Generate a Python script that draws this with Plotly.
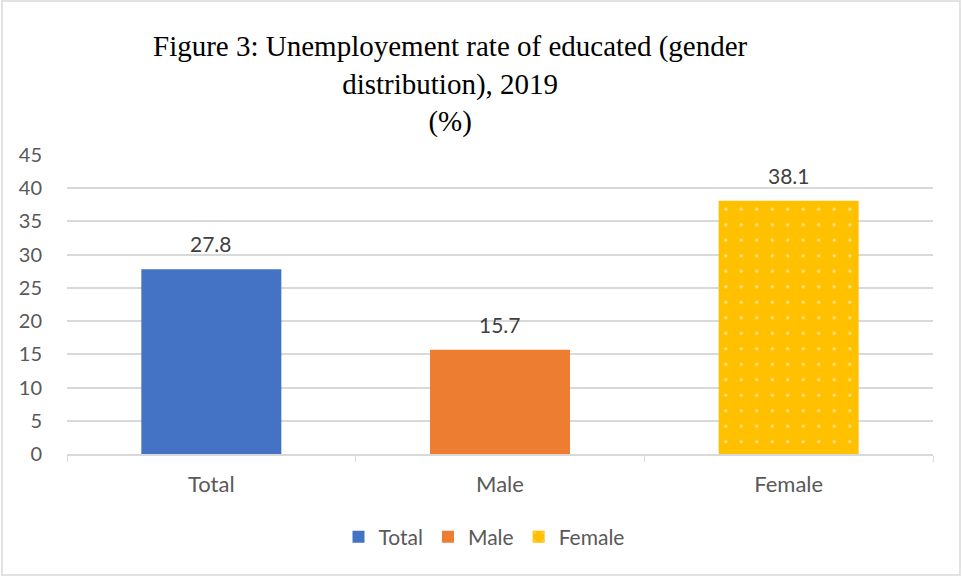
import plotly.graph_objects as go

categories = ["Total", "Male", "Female"]
values = [27.8, 15.7, 38.1]
colors = ["#4472C4", "#ED7D31", "#FFC000"]
y_ticks = [0, 5, 10, 15, 20, 25, 30, 35, 40, 45]
title_lines = ["Figure 3: Unemployement rate of educated (gender", "distribution), 2019", "(%)"]

W, H = 962, 576
ML, MR, MT, MB = 67, 29, 155, 122
pw, ph = W - ML - MR, H - MT - MB
SANS = "Lato, Liberation Sans, sans-serif"

fig = go.Figure()
for c, v, col in zip(categories, values, colors):
    marker = dict(color=col, line=dict(width=0))
    if c == "Female":
        marker["pattern"] = dict(shape=".", fgcolor="white", bgcolor=col, size=15.5,
                                 solidity=0.04, fillmode="overlay")
    fig.add_trace(go.Bar(x=[c], y=[v], name=c, marker=marker, width=0.485, hoverinfo="skip"))
    fig.add_annotation(x=c, y=v, text=f"{v}", showarrow=False, yanchor="bottom", yshift=11,
                       font=dict(family=SANS, size=21, color="#404040"))

fig.add_annotation(
    text="<br>".join(title_lines), xref="paper", yref="paper",
    x=(450 - ML) / pw, y=1 + (155 - 28) / ph,
    xanchor="center", yanchor="top", showarrow=False, align="center",
    font=dict(family="Liberation Serif, Times New Roman, serif", size=29, color="black"),
)

# outer border
fig.add_shape(type="rect", xref="paper", yref="paper",
              x0=(2 - ML) / pw, x1=(960 - ML) / pw,
              y0=-(MB - 1) / ph, y1=1 + (MT - 1) / ph,
              line=dict(color="#D9D9D9", width=1.5), fillcolor="rgba(0,0,0,0)", layer="below")

fig.update_layout(
    width=W, height=H,
    margin=dict(l=ML, r=MR, t=MT, b=MB, pad=0),
    paper_bgcolor="white", plot_bgcolor="white",
    barmode="overlay",
    showlegend=True,
    legend=dict(orientation="h", x=(484 - ML) / pw, xanchor="center", y=-(537 - 454) / ph, yanchor="middle",
                font=dict(family=SANS, size=21, color="#595959"),
                itemwidth=30, traceorder="normal", itemclick=False),
    xaxis=dict(
        categoryorder="array", categoryarray=categories,
        showgrid=False, showline=True, linecolor="#D9D9D9", linewidth=1.5,
        ticks="outside", tickson="boundaries", ticklen=6, tickcolor="#D9D9D9",
        ticklabelstandoff=10,
        tickfont=dict(family=SANS, size=22, color="#595959"),
        range=[-0.5, 2.5], fixedrange=True,
    ),
    yaxis=dict(
        range=[0, 45], tickvals=y_ticks, showgrid=True, gridcolor="#D9D9D9", gridwidth=1.5,
        zeroline=False, showline=False, ticks="", ticklabelstandoff=24,
        tickfont=dict(family=SANS, size=20, color="#595959"),
        fixedrange=True,
    ),
)

fig.write_html("out.html")
